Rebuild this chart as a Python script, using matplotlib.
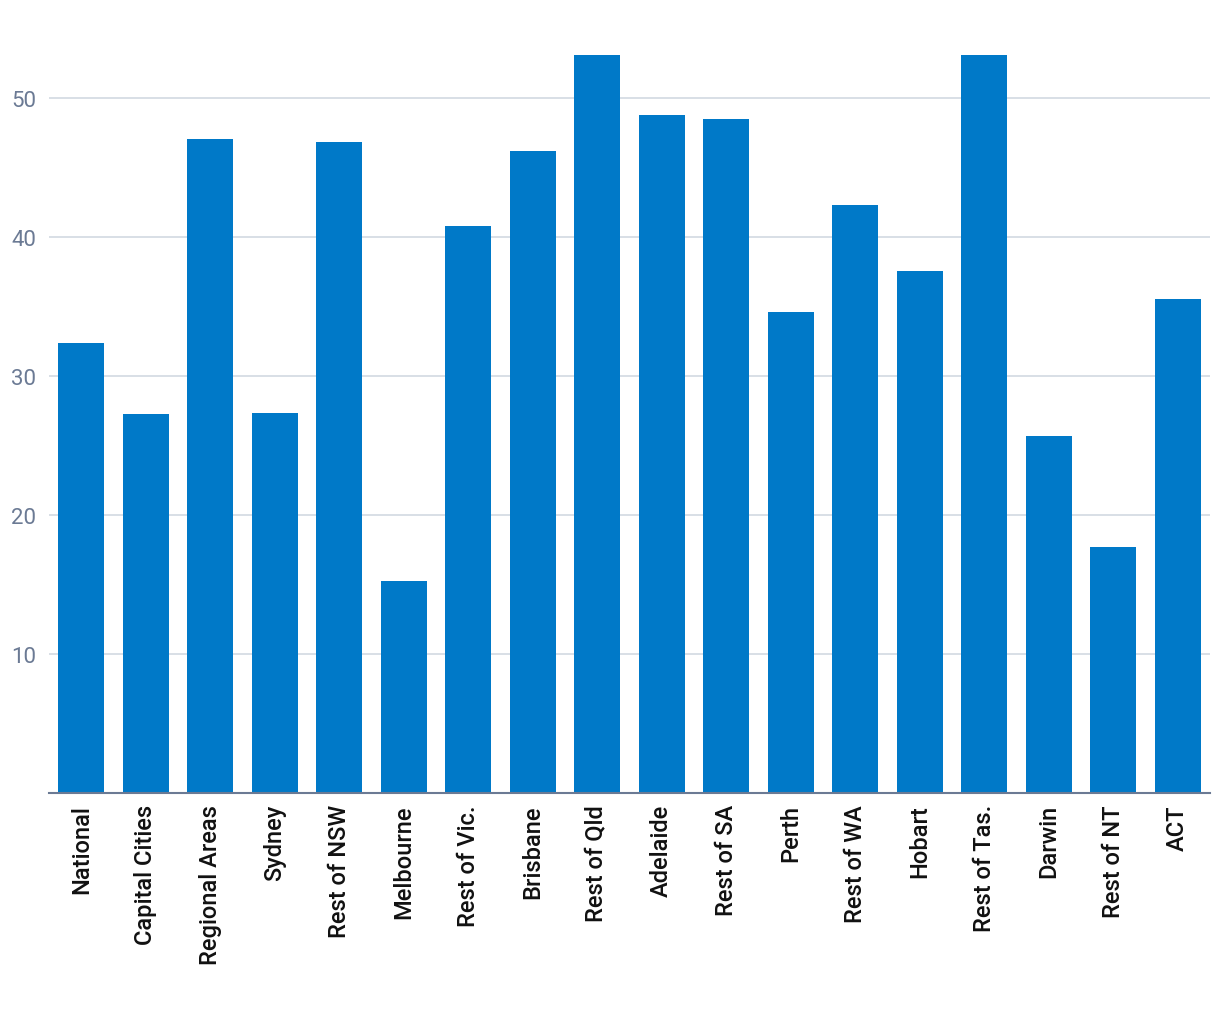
import matplotlib
matplotlib.use("Agg")
import matplotlib.pyplot as plt

categories = ["National", "Capital Cities", "Regional Areas", "Sydney", "Rest of NSW",
              "Melbourne", "Rest of Vic.", "Brisbane", "Rest of Qld", "Adelaide",
              "Rest of SA", "Perth", "Rest of WA", "Hobart", "Rest of Tas.",
              "Darwin", "Rest of NT", "ACT"]
values = [32.4, 27.3, 47.05, 27.35, 46.85, 15.25, 40.8, 46.25, 53.1, 48.8,
          48.55, 34.6, 42.3, 37.55, 53.15, 25.7, 17.7, 35.55]
yticks = [10, 20, 30, 40, 50]

plt.rcParams['font.family'] = ['Roboto', 'DejaVu Sans']

fig = plt.figure(figsize=(12.2, 10.2), dpi=100)
ax = fig.add_axes([49/1220, 226/1020, (1210-49)/1220, (794-30)/1020])

x = list(range(len(categories)))
ax.bar(x, values, width=0.71, color="#0079c8", zorder=3)
ax.set_xlim(-0.5, len(categories) - 0.5)
ax.set_ylim(0, 55)
ax.set_yticks(yticks)
ax.set_yticklabels([str(t) for t in yticks])
ax.set_xticks(x)
ax.set_xticklabels(categories, rotation=90, fontsize=17, fontweight='medium', color="#111111")

ax.grid(axis='y', color="#d6dce4", linewidth=1.3, zorder=0)
ax.tick_params(axis='y', length=0, pad=9, labelsize=16, labelcolor="#6b7a94")
ax.tick_params(axis='x', length=0, pad=8)
for s in ['top', 'right', 'left']:
    ax.spines[s].set_visible(False)
ax.spines['bottom'].set_color("#6b7a94")
ax.spines['bottom'].set_linewidth(1.5)
ax.spines['bottom'].set_zorder(4)

fig.savefig("out.png", dpi=100, facecolor="white")
